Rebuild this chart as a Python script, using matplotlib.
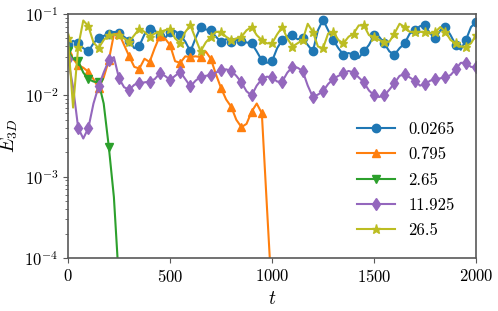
import numpy as np
import matplotlib
matplotlib.use('Agg')
import matplotlib.pyplot as plt

plt.rcParams['font.family'] = 'serif'
plt.rcParams['font.serif'] = ['cmr10']
plt.rcParams['mathtext.fontset'] = 'cm'
plt.rcParams['axes.formatter.use_mathtext'] = True

# time grid (step 25) and log10(E_3D)
t_full = np.arange(0, 2001, 25)

blue_log = [-1.38, -1.33, -1.36, -1.42, -1.46, -1.36, -1.29, -1.27, -1.24, -1.22,
            -1.23, -1.28, -1.33, -1.42, -1.39, -1.25, -1.18, -1.20, -1.27, -1.30,
            -1.22, -1.21, -1.26, -1.34, -1.46, -1.30, -1.16, -1.19, -1.20, -1.28,
            -1.34, -1.31, -1.34, -1.32, -1.33, -1.35, -1.36, -1.46, -1.57, -1.60,
            -1.58, -1.42, -1.32, -1.27, -1.26, -1.31, -1.30, -1.38, -1.46, -1.20,
            -1.07, -1.20, -1.32, -1.42, -1.50, -1.48, -1.50, -1.54, -1.46, -1.38,
            -1.26, -1.28, -1.36, -1.46, -1.50, -1.42, -1.36, -1.24, -1.20, -1.15,
            -1.14, -1.24, -1.30, -1.20, -1.16, -1.26, -1.38, -1.44, -1.32, -1.16,
            -1.10]

yellow_log = [-1.30, -2.15, -1.40, -1.08, -1.15, -1.35, -1.42, -1.32, -1.26, -1.25,
              -1.26, -1.30, -1.34, -1.26, -1.18, -1.22, -1.28, -1.24, -1.22, -1.20,
              -1.18, -1.30, -1.36, -1.22, -1.14, -1.30, -1.46, -1.35, -1.28, -1.22,
              -1.22, -1.28, -1.32, -1.30, -1.28, -1.20, -1.16, -1.26, -1.32, -1.36,
              -1.36, -1.25, -1.16, -1.30, -1.40, -1.36, -1.32, -1.12, -1.22, -1.40,
              -1.42, -1.24, -1.22, -1.32, -1.36, -1.28, -1.24, -1.14, -1.14, -1.26,
              -1.28, -1.32, -1.34, -1.34, -1.24, -1.12, -1.16, -1.22, -1.22, -1.22,
              -1.22, -1.24, -1.22, -1.16, -1.22, -1.32, -1.36, -1.40, -1.40, -1.36,
              -1.26]

purple_log = [-1.55, -1.90, -2.40, -2.53, -2.40, -2.10, -1.89, -1.72, -1.57, -1.53,
              -1.79, -1.90, -1.93, -1.87, -1.85, -1.84, -1.83, -1.80, -1.73, -1.76,
              -1.81, -1.76, -1.71, -1.80, -1.89, -1.82, -1.77, -1.76, -1.75, -1.72,
              -1.69, -1.68, -1.70, -1.76, -1.84, -1.95, -2.00, -1.88, -1.80, -1.77,
              -1.78, -1.83, -1.83, -1.72, -1.65, -1.66, -1.70, -1.88, -2.02, -1.99,
              -1.95, -1.86, -1.80, -1.76, -1.73, -1.70, -1.72, -1.78, -1.84, -1.94,
              -2.00, -2.02, -2.00, -1.93, -1.85, -1.76, -1.74, -1.78, -1.82, -1.88,
              -1.86, -1.82, -1.80, -1.79, -1.78, -1.75, -1.68, -1.60, -1.60, -1.65,
              -1.65]

t_orange = np.arange(0, 1001, 25)
orange_log = [-1.46, -1.55, -1.63, -1.66, -1.71, -1.80, -1.91, -1.78, -1.57, -1.25,
              -1.24, -1.38, -1.52, -1.65, -1.67, -1.55, -1.59, -1.42, -1.27, -1.30,
              -1.38, -1.58, -1.60, -1.52, -1.53, -1.52, -1.53, -1.46, -1.55, -1.74,
              -1.91, -2.05, -2.14, -2.30, -2.39, -2.35, -2.20, -2.10, -2.22, -3.37,
              -4.50]

t_green = np.arange(0, 251, 25)
green_log = [-1.45, -1.55, -1.58, -1.72, -1.80, -1.83, -1.84, -2.10, -2.63, -3.25, -4.30]

labels = ['0.0265', '0.795', '2.65', '11.925', '26.5']

fig = plt.figure(figsize=(4.98, 3.11), dpi=100)
ax = fig.add_axes([0.1365, 0.170, 0.8195, 0.785])

ax.plot(t_full, 10.0 ** np.array(blue_log), color='C0', marker='o', ms=6, lw=1.5, markevery=2, label=labels[0])
ax.plot(t_orange, 10.0 ** np.array(orange_log), color='C1', marker='^', ms=6, lw=1.5, markevery=2, label=labels[1])
ax.plot(t_green, 10.0 ** np.array(green_log), color='C2', marker='v', ms=6, lw=1.5, markevery=2, label=labels[2])
ax.plot(t_full, 10.0 ** np.array(purple_log), color='C4', marker='d', ms=6, lw=1.5, markevery=2, label=labels[3])
ax.plot(t_full, 10.0 ** np.array(yellow_log), color='C8', marker='*', ms=6.5, lw=1.5, markevery=2, label=labels[4])

ax.set_yscale('log')
ax.set_xlim(0, 2000)
ax.set_ylim(1e-4, 1e-1)
ax.set_xticks([0, 500, 1000, 1500, 2000])
ax.tick_params(labelsize=12)
for s in ax.spines.values():
    s.set_color('0.35')
    s.set_linewidth(1.2)
ax.tick_params(which='both', color='0.35')

ax.set_xlabel(r'$t$', fontsize=14)
ax.set_ylabel(r'$E_{3D}$', fontsize=14)
ax.yaxis.set_label_coords(-0.118, 0.5)

ax.legend(loc='lower right', bbox_to_anchor=(0.985, 0.02), frameon=False, fontsize=12,
          handlelength=2.3, labelspacing=0.6)

fig.savefig('out.png', dpi=100)
